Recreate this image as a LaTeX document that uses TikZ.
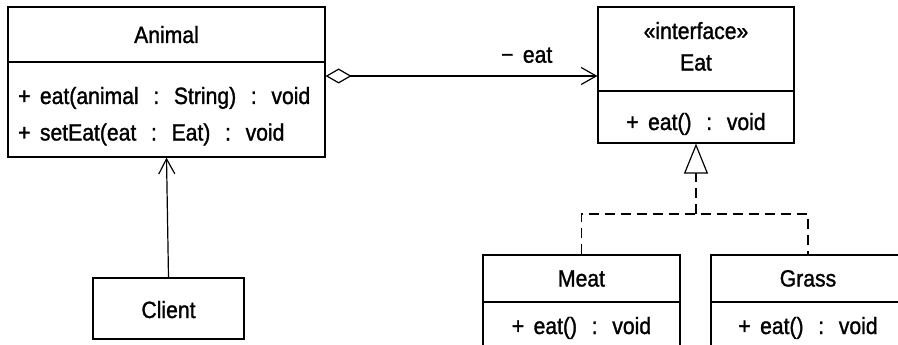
\documentclass[tikz,border=0pt]{standalone}
\usepackage{fontspec}
\setmainfont[FakeStretch=0.9, FakeBold=1.3]{Liberation Sans}
\usetikzlibrary{arrows.meta}
% wide colon used between names and types, and the visibility marks
\newcommand{\tcolon}{\makebox[1em]{:}}
\newcommand{\vispub}{+\hspace{0.4em}}
\newcommand{\vispriv}{−\hspace{0.4em}}
\tikzset{
  umlbox/.style={draw, line width=1.2pt, inner sep=0pt, minimum width=#1},
  txt/.style={anchor=base, inner sep=0pt, font=\fontsize{23.5}{28}\selectfont},
  ltxt/.style={txt, anchor=base west},
  link/.style={line width=1.2pt},
  navtip/.style={-{Straight Barb[length=15pt, width=16pt, line width=1.2pt]}},
  dashline/.style={line width=1.2pt, dash pattern=on 10pt off 6pt},
}
\begin{document}
\begin{tikzpicture}[x=1pt, y=-1pt]
\useasboundingbox (0,0) rectangle (898,345);
\clip (0,0) rectangle (898,345);

% Animal class
\node[umlbox=317pt, minimum height=55pt] (animalHead) at (166.5,34.5) {};
\node[umlbox=317pt, minimum height=95pt] (animalBody) at (166.5,109.5) {};
\node[txt] (animalName) at (166.5,43) {Animal};
\node[ltxt] (animalOp1) at (18,104) {\vispub eat(animal \tcolon{} String) \tcolon{} void};
\node[ltxt] (animalOp2) at (18,140.5) {\vispub setEat(eat \tcolon{} Eat) \tcolon{} void};

% Eat interface
\node[umlbox=196pt, minimum height=84pt] (eatHead) at (696,49) {};
\node[umlbox=196pt, minimum height=52pt] (eatBody) at (696,117) {};
\node[txt] (eatStereo) at (696,39) {«interface»};
\node[txt] (eatName) at (696,70.5) {Eat};
\node[txt] (eatOp) at (696,130) {\vispub eat() \tcolon{} void};

% Client
\node[umlbox=151pt, minimum height=61pt] (client) at (168.5,308.5) {};
\node[txt] (clientName) at (168.5,318) {Client};

% Meat and Grass implementations
\node[umlbox=197pt, minimum height=47pt] (meatHead) at (581.5,278.5) {};
\node[umlbox=197pt, minimum height=60pt] (meatBody) at (581.5,332) {};
\node[txt] (meatName) at (581.5,286.5) {Meat};
\node[txt] (meatOp) at (581.5,334) {\vispub eat() \tcolon{} void};

\node[umlbox=194pt, minimum height=47pt] (grassHead) at (808,278.5) {};
\node[umlbox=194pt, minimum height=60pt] (grassBody) at (808,332) {};
\node[txt] (grassName) at (808,286.5) {Grass};
\node[txt] (grassOp) at (808,334) {\vispub eat() \tcolon{} void};

% aggregation Animal -> Eat
\coordinate (aggY) at (0,76);
\draw[link, {Diamond[open, length=26pt, width=15pt, line width=1.2pt]}-{Straight Barb[length=15pt, width=17pt, line width=1.2pt]}]
  (animalHead.east |- aggY) -- (eatHead.west |- aggY)
  node[txt, pos=0.74, yshift=13.3pt] (aggLabel) {\vispriv eat};

% Client uses Animal
\draw[link, navtip] (client.north) -- (animalBody.south);

% realization Meat, Grass -> Eat
\coordinate (fork) at (696,214);
\draw[dashline] (meatHead.north) |- (fork) -| (grassHead.north);
\draw[dashline, -{Triangle[open, length=30pt, width=24pt, line width=1.2pt]}] (fork) -- (eatBody.south);
\end{tikzpicture}
\end{document}
